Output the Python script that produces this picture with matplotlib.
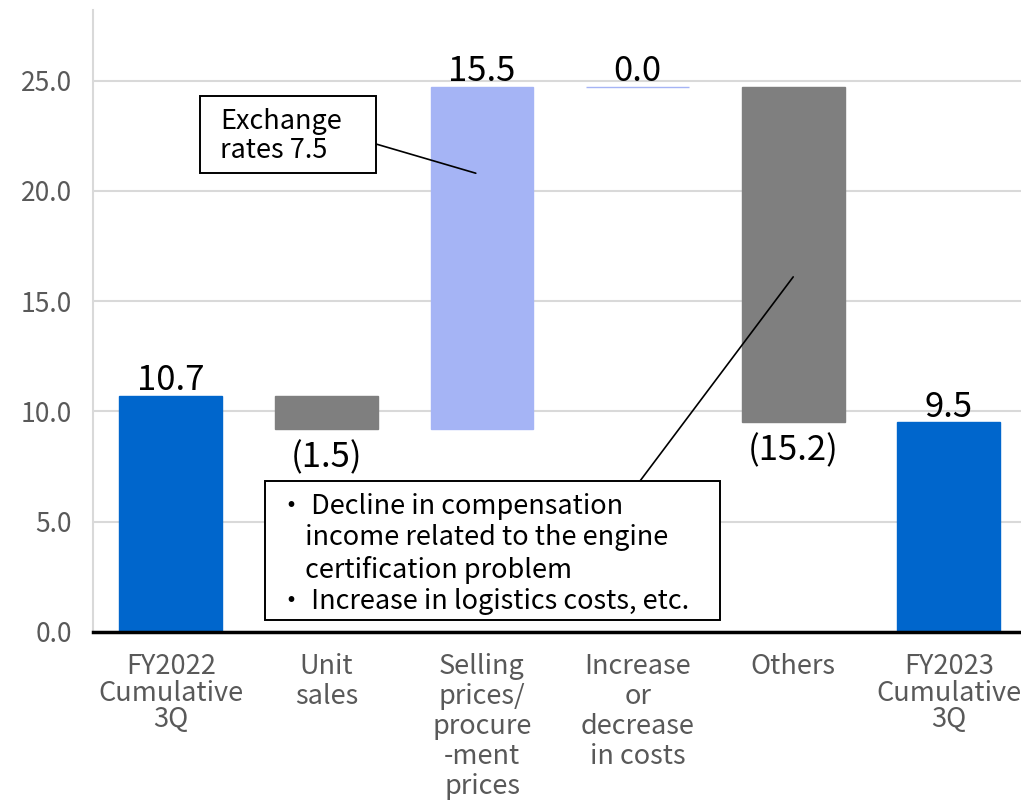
import matplotlib
matplotlib.use("Agg")
import matplotlib.pyplot as plt
from matplotlib.patches import Rectangle

plt.rcParams["font.family"] = ["Noto Sans CJK JP", "DejaVu Sans"]

categories = ["FY2022\nCumulative\n3Q", "Unit\nsales", "Selling\nprices/\nprocure\n-ment\nprices",
              "Increase\nor\ndecrease\nin costs", "Others", "FY2023\nCumulative\n3Q"]
start_value = 10.7
deltas = [-1.5, 15.5, 0.0, -15.2]
end_value = 9.5
bar_colors = ["#0066CC", "#7F7F7F", "#A5B4F5", "#A5B4F5", "#7F7F7F", "#0066CC"]

note1 = "Exchange\nrates 7.5"
note2 = ("・ Decline in compensation\n\u3000income related to the engine\n"
         "\u3000certification problem\n・ Increase in logistics costs, etc.")

# waterfall bottoms / heights
bottoms = [0]
heights = [start_value]
level = start_value
for d in deltas:
    bottoms.append(min(level, level + d))
    heights.append(abs(d))
    level += d
bottoms.append(0)
heights.append(end_value)
values = [start_value] + deltas + [end_value]

W, H = 1021, 800
fig = plt.figure(figsize=(W / 100, H / 100), dpi=100)
ax = fig.add_axes([0.0911, 0.21, 0.9089, 0.7775])

def fp(px, py):
    # pixel position -> figure fraction
    return (px / W, 1 - py / H)

x = list(range(len(categories)))
ax.bar(x, heights, bottom=bottoms, width=0.66, color=bar_colors,
       edgecolor=bar_colors, linewidth=1, zorder=3)

for i, v in enumerate(values):
    top = bottoms[i] + heights[i]
    if v < 0:
        ax.text(i, bottoms[i] - 0.5, "(%.1f)" % abs(v), ha="center", va="top",
                fontsize=25, color="black", zorder=5)
    else:
        ax.text(i, top - 0.1, "%.1f" % v, ha="center", va="bottom",
                fontsize=25, color="black", zorder=5)

ax.set_xlim(-0.5, 5.464)
ax.set_ylim(0, 28.2)
ax.set_yticks([0, 5, 10, 15, 20, 25])
ax.set_yticklabels(["%.1f" % t for t in [0, 5, 10, 15, 20, 25]])
ax.set_xticks(x)
ax.set_xticklabels(categories)
for i, lab in enumerate(ax.get_xticklabels()):
    # the two FY labels are set tighter than the others
    lab.set_linespacing(0.99 if i in (0, len(categories) - 1) else 1.14)
ax.tick_params(axis="x", length=0, labelsize=19.5, colors="#595959", pad=15)
ax.tick_params(axis="y", length=0, labelsize=19, colors="#595959", pad=15)
ax.yaxis.grid(True, color="#D9D9D9", linewidth=1.5, zorder=0)
ax.set_axisbelow(True)
for s in ["top", "right"]:
    ax.spines[s].set_visible(False)
ax.spines["left"].set_color("#D9D9D9")
ax.spines["left"].set_linewidth(1.5)
ax.spines["bottom"].set_color("black")
ax.spines["bottom"].set_linewidth(2.5)
ax.spines["bottom"].set_zorder(4)

# callout 1: exchange rates
x0, y0 = fp(200, 173)
x1, y1 = fp(376, 96)
fig.add_artist(Rectangle((x0, y0), x1 - x0, y1 - y0, transform=fig.transFigure,
                         fc="white", ec="black", lw=1.4, zorder=6))
fig.text(*fp(220, 136), note1, ha="left", va="center", fontsize=19.5,
         linespacing=1.08, zorder=7)
ax.annotate("", xy=(1.96, 20.8), xycoords="data", xytext=fp(376, 144),
            textcoords="figure fraction",
            arrowprops=dict(arrowstyle="-", color="black", lw=1.2, shrinkA=0, shrinkB=0))

# callout 2: others
x0, y0 = fp(265, 620)
x1, y1 = fp(720, 481)
fig.add_artist(Rectangle((x0, y0), x1 - x0, y1 - y0, transform=fig.transFigure,
                         fc="white", ec="black", lw=1.4, zorder=6))
fig.text(*fp(278, 554), note2, ha="left", va="center", fontsize=19.5,
         linespacing=1.2, zorder=7)
ax.annotate("", xy=(4.0, 16.1), xycoords="data", xytext=fp(640, 481),
            textcoords="figure fraction",
            arrowprops=dict(arrowstyle="-", color="black", lw=1.2, shrinkA=0, shrinkB=0))

fig.savefig("out.png", dpi=100)
